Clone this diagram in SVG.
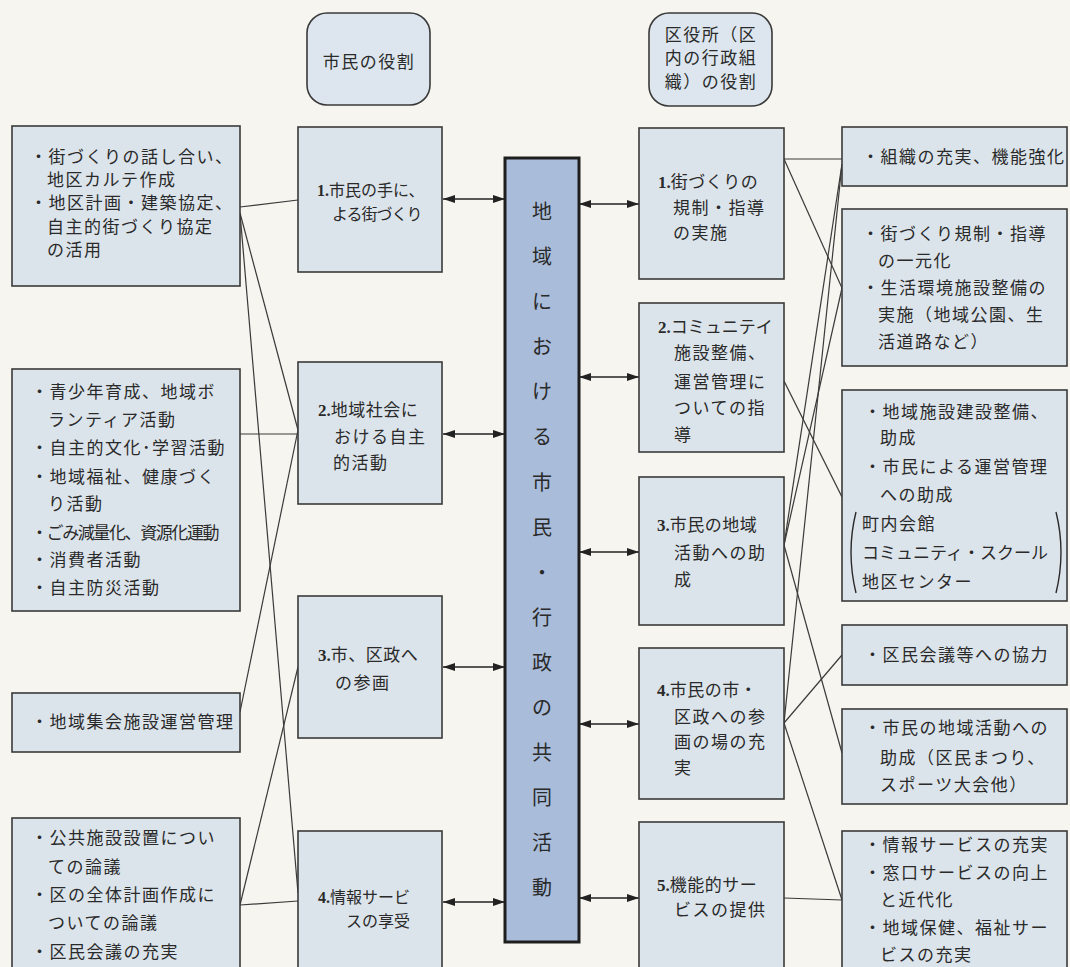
<svg xmlns="http://www.w3.org/2000/svg" width="1070" height="967" viewBox="0 0 1070 967">
<defs>
<style>
.bg{fill:#f6f5ef}
.box{fill:#dce4eb;stroke:#3a3a3a;stroke-width:1.6}
.rbox{fill:#dde6ee;stroke:#3a3a3a;stroke-width:1.6}
.col{fill:#a9bcd9;stroke:#1e1e1e;stroke-width:3}
.t{font-family:"Noto Sans CJK JP","Noto Sans CJK SC",sans-serif;font-size:17px;fill:#2a2a2a;letter-spacing:1.5px}
.s{font-size:16px;letter-spacing:0}
.n{font-family:"Liberation Serif",serif;font-weight:bold;letter-spacing:0}
.m{text-anchor:middle}
.c{font-family:"Noto Sans CJK JP","Noto Sans CJK SC",sans-serif;font-size:20px;fill:#2a2a2a;text-anchor:middle}
.ln{stroke:#3a3a3a;stroke-width:1.2;fill:none}
.ar{stroke:#222;stroke-width:1.5;fill:none;marker-start:url(#as);marker-end:url(#ae)}
.br{stroke:#2a2a2a;stroke-width:1.4;fill:none}
</style>
<marker id="ae" viewBox="0 0 12 8" refX="12" refY="4" markerWidth="12" markerHeight="8" markerUnits="userSpaceOnUse" orient="auto"><path d="M0,0 L12,4 L0,8 z" fill="#222"/></marker>
<marker id="as" viewBox="0 0 12 8" refX="0" refY="4" markerWidth="12" markerHeight="8" markerUnits="userSpaceOnUse" orient="auto"><path d="M12,0 L0,4 L12,8 z" fill="#222"/></marker>
</defs>
<rect class="bg" x="0" y="0" width="1070" height="967"/>

<g id="connectors">
<line class="ln" x1="240" y1="207" x2="298" y2="200"/>
<line class="ln" x1="240" y1="213" x2="298" y2="430"/>
<line class="ln" x1="240" y1="213" x2="298" y2="893"/>
<line class="ln" x1="240" y1="434" x2="298" y2="434"/>
<line class="ln" x1="298" y1="430" x2="240" y2="712"/>
<line class="ln" x1="240" y1="905" x2="298" y2="667"/>
<line class="ln" x1="240" y1="905" x2="298" y2="901"/>
<line class="ln" x1="784" y1="159" x2="842" y2="159"/>
<line class="ln" x1="784" y1="159" x2="842" y2="288"/>
<line class="ln" x1="784" y1="381" x2="842" y2="497"/>
<line class="ln" x1="842" y1="164" x2="784" y2="545"/>
<line class="ln" x1="842" y1="164" x2="784" y2="723"/>
<line class="ln" x1="842" y1="288" x2="784" y2="545"/>
<line class="ln" x1="784" y1="545" x2="842" y2="753"/>
<line class="ln" x1="784" y1="723" x2="842" y2="655"/>
<line class="ln" x1="784" y1="723" x2="842" y2="900"/>
<line class="ln" x1="784" y1="898" x2="842" y2="900"/>
<line class="ar" x1="443" y1="199" x2="505" y2="199"/>
<line class="ar" x1="443" y1="434" x2="505" y2="434"/>
<line class="ar" x1="443" y1="667" x2="505" y2="667"/>
<line class="ar" x1="443" y1="902" x2="505" y2="902"/>
<line class="ar" x1="579" y1="204" x2="639" y2="204"/>
<line class="ar" x1="579" y1="377" x2="639" y2="377"/>
<line class="ar" x1="579" y1="552" x2="639" y2="552"/>
<line class="ar" x1="579" y1="724" x2="639" y2="724"/>
<line class="ar" x1="579" y1="898" x2="639" y2="898"/>
</g>

<g id="head-citizen">
<rect class="rbox" x="307" y="13" width="123" height="92" rx="20"/>
<text class="t m" x="369" y="68">市民の役割</text>
</g>
<g id="head-ward">
<rect class="rbox" x="649" y="13" width="123" height="93" rx="20"/>
<text class="t m" x="711" y="41">区役所（区</text>
<text class="t m" x="711" y="64">内の行政組</text>
<text class="t m" x="711" y="88">織）の役割</text>
</g>

<g id="center">
<rect class="col" x="505" y="158" width="74" height="784"/>
<text class="c" x="542" y="219">地</text>
<text class="c" x="542" y="264">域</text>
<text class="c" x="542" y="309">に</text>
<text class="c" x="542" y="354">お</text>
<text class="c" x="542" y="399">け</text>
<text class="c" x="542" y="444">る</text>
<text class="c" x="542" y="490">市</text>
<text class="c" x="542" y="535">民</text>
<text class="c" x="542" y="580">・</text>
<text class="c" x="542" y="625">行</text>
<text class="c" x="542" y="670">政</text>
<text class="c" x="542" y="715">の</text>
<text class="c" x="542" y="760">共</text>
<text class="c" x="542" y="805">同</text>
<text class="c" x="542" y="850">活</text>
<text class="c" x="542" y="895">動</text>
</g>

<g id="L1">
<rect class="box" x="12" y="126" width="228" height="160"/>
<text class="t" x="30" y="163">・街づくりの話し合い、</text>
<text class="t" x="47" y="186">地区カルテ作成</text>
<text class="t" x="30" y="209">・地区計画・建築協定、</text>
<text class="t" x="47" y="233">自主的街づくり協定</text>
<text class="t" x="47" y="256">の活用</text>
</g>
<g id="L2">
<rect class="box" x="12" y="369" width="228" height="242"/>
<text class="t" x="31" y="398">・青少年育成、地域ボ</text>
<text class="t" x="48" y="426">ランティア活動</text>
<text class="t" x="31" y="454">・自主的文化･学習活動</text>
<text class="t" x="31" y="483">・地域福祉、健康づく</text>
<text class="t" x="48" y="510">り活動</text>
<text class="t" x="31" y="539" textLength="190">・ごみ減量化、資源化運動</text>
<text class="t" x="31" y="566">・消費者活動</text>
<text class="t" x="31" y="594">・自主防災活動</text>
</g>
<g id="L3">
<rect class="box" x="12" y="693" width="228" height="59"/>
<text class="t" x="31" y="728">・地域集会施設運営管理</text>
</g>
<g id="L4">
<rect class="box" x="12" y="818" width="228" height="160"/>
<text class="t" x="31" y="844">・公共施設設置につい</text>
<text class="t" x="48" y="873">ての論議</text>
<text class="t" x="31" y="901">・区の全体計画作成に</text>
<text class="t" x="48" y="929">ついての論議</text>
<text class="t" x="31" y="958">・区民会議の充実</text>
</g>

<g id="M1">
<rect class="box" x="298" y="127" width="144" height="145"/>
<text class="t s" x="317" y="196"><tspan class="n">1.</tspan>市民の手に、</text>
<text class="t s" x="332" y="220" style="letter-spacing:-1px">よる街づくり</text>
</g>
<g id="M2">
<rect class="box" x="298" y="362" width="144" height="142"/>
<text class="t" x="318" y="416" style="letter-spacing:0.5px"><tspan class="n">2.</tspan>地域社会に</text>
<text class="t" x="334" y="443">おける自主</text>
<text class="t" x="333" y="469">的活動</text>
</g>
<g id="M3">
<rect class="box" x="298" y="596" width="144" height="142"/>
<text class="t" x="318" y="661" style="letter-spacing:0.5px"><tspan class="n">3.</tspan>市、区政へ</text>
<text class="t" x="335" y="689">の参画</text>
</g>
<g id="M4">
<rect class="box" x="298" y="831" width="144" height="150"/>
<text class="t s" x="318" y="903"><tspan class="n">4.</tspan>情報サービ</text>
<text class="t s" x="346" y="927">スの享受</text>
</g>

<g id="R1">
<rect class="box" x="639" y="128" width="145" height="151"/>
<text class="t" x="658" y="188" style="letter-spacing:0.5px"><tspan class="n">1.</tspan>街づくりの</text>
<text class="t" x="673" y="214">規制・指導</text>
<text class="t" x="673" y="239">の実施</text>
</g>
<g id="R2">
<rect class="box" x="639" y="303" width="145" height="149"/>
<text class="t" x="658" y="333" style="letter-spacing:0"><tspan class="n">2.</tspan>コミュニテイ</text>
<text class="t" x="674" y="359">施設整備、</text>
<text class="t" x="674" y="388">運営管理に</text>
<text class="t" x="674" y="414">ついての指</text>
<text class="t" x="674" y="441">導</text>
</g>
<g id="R3">
<rect class="box" x="639" y="477" width="145" height="148"/>
<text class="t" x="657" y="531" style="letter-spacing:0.5px"><tspan class="n">3.</tspan>市民の地域</text>
<text class="t" x="674" y="559">活動への助</text>
<text class="t" x="674" y="586">成</text>
</g>
<g id="R4">
<rect class="box" x="639" y="648" width="145" height="151"/>
<text class="t" x="657" y="696" style="letter-spacing:0.5px"><tspan class="n">4.</tspan>市民の市・</text>
<text class="t" x="674" y="723">区政への参</text>
<text class="t" x="674" y="748">画の場の充</text>
<text class="t" x="674" y="774">実</text>
</g>
<g id="R5">
<rect class="box" x="639" y="822" width="145" height="160"/>
<text class="t" x="657" y="891" style="letter-spacing:0.5px"><tspan class="n">5.</tspan>機能的サー</text>
<text class="t" x="674" y="916">ビスの提供</text>
</g>

<g id="F1">
<rect class="box" x="842" y="127" width="225" height="59"/>
<text class="t" x="862" y="163">・組織の充実、機能強化</text>
</g>
<g id="F2">
<rect class="box" x="842" y="209" width="225" height="157"/>
<text class="t" x="862" y="240">・街づくり規制・指導</text>
<text class="t" x="878" y="267">の一元化</text>
<text class="t" x="862" y="294">・生活環境施設整備の</text>
<text class="t" x="878" y="321">実施（地域公園、生</text>
<text class="t" x="878" y="348">活道路など）</text>
</g>
<g id="F3">
<rect class="box" x="842" y="390" width="225" height="211"/>
<text class="t" x="864" y="418">・地域施設建設整備、</text>
<text class="t" x="880" y="444">助成</text>
<text class="t" x="864" y="473">・市民による運営管理</text>
<text class="t" x="880" y="501">への助成</text>
<text class="t" x="862" y="530">町内会館</text>
<text class="t" x="862" y="559" style="letter-spacing:0">コミュニティ・スクール</text>
<text class="t" x="862" y="588">地区センター</text>
<path class="br" d="M856,512 Q846,552 856,593"/>
<path class="br" d="M1056,512 Q1066,552 1056,593"/>
</g>
<g id="F4">
<rect class="box" x="842" y="625" width="225" height="60"/>
<text class="t" x="864" y="661">・区民会議等への協力</text>
</g>
<g id="F5">
<rect class="box" x="842" y="709" width="225" height="95"/>
<text class="t" x="864" y="734">・市民の地域活動への</text>
<text class="t" x="880" y="764">助成（区民まつり、</text>
<text class="t" x="880" y="791">スポーツ大会他）</text>
</g>
<g id="F6">
<rect class="box" x="842" y="831" width="225" height="150"/>
<text class="t" x="864" y="851">・情報サービスの充実</text>
<text class="t" x="864" y="879">・窓口サービスの向上</text>
<text class="t" x="880" y="906">と近代化</text>
<text class="t" x="864" y="934">・地域保健、福祉サー</text>
<text class="t" x="880" y="961">ビスの充実</text>
</g>
</svg>
